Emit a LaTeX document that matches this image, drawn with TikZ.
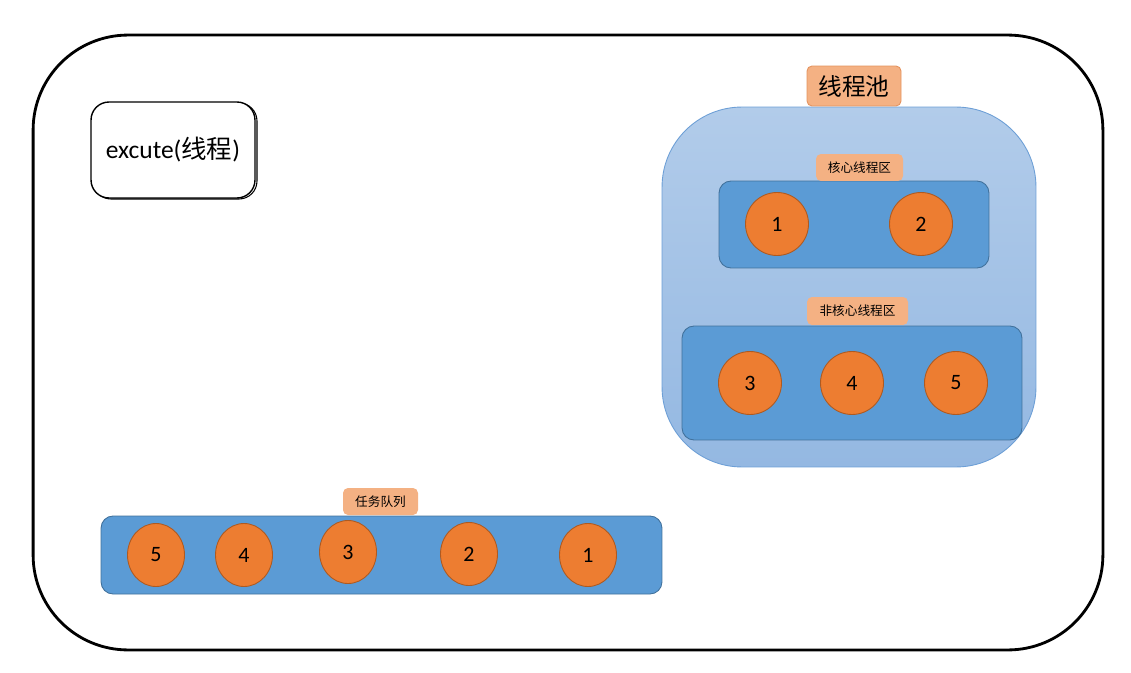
\documentclass[tikz,border=0pt]{standalone}
\usepackage{fontspec}
\setmainfont{Carlito}
\newfontfamily\cjk{Noto Sans CJK SC}
\usetikzlibrary{shapes.geometric}

\definecolor{zoneblue}{HTML}{5B9BD5}
\definecolor{zoneedge}{HTML}{41719C}
\definecolor{pooltop}{HTML}{B2CCEA}
\definecolor{poolbottom}{HTML}{94B8E2}
\definecolor{pooledge}{HTML}{6D9FD6}
\definecolor{threadfill}{HTML}{ED7D31}
\definecolor{threadedge}{HTML}{AE5A21}
\definecolor{tagfill}{HTML}{F4B183}
\definecolor{tagedge}{HTML}{E4925E}

\tikzset{
  thread/.style={circle, fill=threadfill, draw=threadedge, line width=0.5pt,
    minimum size=1.26cm, inner sep=0pt, font=\fontsize{12.5}{14}\selectfont},
  task/.style={thread, ellipse, minimum width=1.14cm, minimum height=1.26cm},
  tagbox/.style={fill=tagfill, rounded corners=0.1cm, inner sep=0pt,
    font=\cjk\fontsize{7.2}{8}\selectfont},
  zone/.style={fill=zoneblue, draw=zoneedge, line width=0.5pt,
    rounded corners=0.24cm, inner sep=0pt},
}

\begin{document}
\begin{tikzpicture}[x=0.02cm, y=-0.02cm]
        \useasboundingbox (0,0) rectangle (1131,672);

        % Draw the outer frame
        \node[draw, line width=1.6pt, rounded corners=1.9cm, minimum width=21.4cm,
          minimum height=12.3cm, inner sep=0pt] (frame) at (568,342.5) {};

        % Draw the excute box and its shadow line
        \draw[line width=0.6pt, rounded corners=0.36cm] (93,103) rectangle (257,199);
        \node[draw, fill=white, line width=0.8pt, rounded corners=0.36cm, minimum width=3.28cm,
          minimum height=1.92cm, inner sep=0pt, font=\fontsize{14.5}{16}\selectfont]
          (excute) at (173,150) {excute({\cjk 线程})};

        % Draw the thread pool
        \node[rounded corners=1.6cm, top color=pooltop, bottom color=poolbottom, draw=pooledge,
          line width=0.5pt, minimum width=7.48cm, minimum height=7.2cm, inner sep=0pt]
          (pool) at (849,287) {};
        \node[tagbox, draw=tagedge, line width=0.5pt, minimum width=1.88cm, minimum height=0.8cm,
          font=\cjk\fontsize{13.5}{15}\selectfont] (pooltag) at (854,86) {线程池};

        % Core threads
        \node[zone, minimum width=5.4cm, minimum height=1.74cm] (core) at (854,224.5) {};
        \node[tagbox, minimum width=1.74cm, minimum height=0.54cm] (coretag) at (859.5,167.5) {核心线程区};
        \node[thread] (c1) at (777,224) {1};
        \node[thread] (c2) at (921,224) {2};

        % Non-core threads
        \node[zone, minimum width=6.8cm, minimum height=2.28cm] (extra) at (852,383) {};
        \node[tagbox, minimum width=2.02cm, minimum height=0.56cm] (extratag) at (857.5,311) {非核心线程区};
        \foreach \x/\n in {750/3, 852/4, 956/5}
        {
          \node[thread] (e\n) at (\x,383) {\n};
        }

        % Task queue
        \node[zone, minimum width=11.22cm, minimum height=1.56cm] (queue) at (381.5,555) {};
        \node[tagbox, minimum width=1.5cm, minimum height=0.54cm] (queuetag) at (380.5,501.5) {任务队列};
        \foreach \x/\y/\n in {156/555/5, 244/555/4, 348/552/3, 469/554/2, 588/555/1}
        {
          \node[task] (t\n) at (\x,\y) {\n};
        }
      \end{tikzpicture}
\end{document}
